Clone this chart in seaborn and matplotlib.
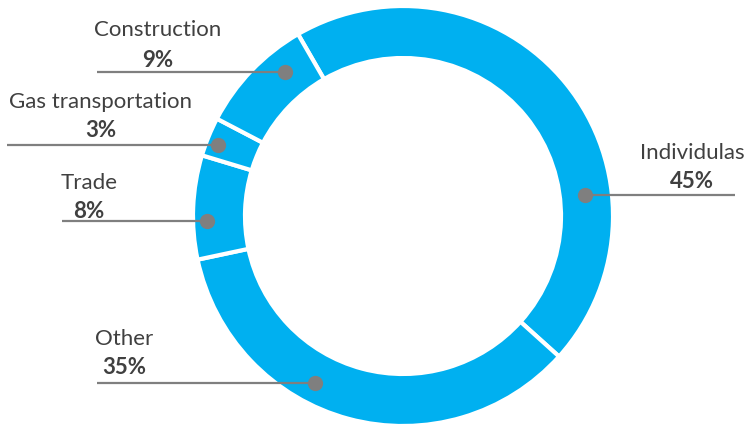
import numpy as np
import matplotlib
matplotlib.use("Agg")
import matplotlib.pyplot as plt
import seaborn as sns

# Loan portfolio structure by sector
categories = ["Individulas", "Other", "Trade", "Gas transportation", "Construction"]
shares = [45, 35, 8, 3, 9]
pct_labels = ["45%", "35%", "8%", "3%", "9%"]

# Leader layout (pixel space, y measured from the top of the figure)
dot_angle_deg = [83.4, 207.8, 268.5, 291.0, 320.7]   # clockwise from 12 o'clock
dot_radius = [183, 189, 196, 198, 186]
line_end_x = [735, 97, 62, 7, 97]
label_center_x = [692, 124, 89, 101, 158]
name_y = [153, 339, 183, 102, 30]
pct_y = [181, 368, 211, 130, 60]

sns.set_theme(style="white")
plt.rcParams["font.family"] = ["Lato", "DejaVu Sans"]

W, H = 748, 428
fig = plt.figure(figsize=(W / 100, H / 100), dpi=100)
ax = fig.add_axes([0, 0, 1, 1])
ax.set_xlim(0, W)
ax.set_ylim(0, H)
ax.set_aspect("equal")
ax.axis("off")

cx, cy = 403, H - 216
R, ring = 210, 52
blue = "#00B0F0"
grey = "#7F7F7F"
text_col = "#404040"

ax.pie(shares, colors=[blue] * len(shares), startangle=120, counterclock=False,
       radius=R, center=(cx, cy),
       wedgeprops=dict(width=ring, edgecolor="white", linewidth=3))
ax.set_xlim(0, W)
ax.set_ylim(0, H)

for i in range(len(categories)):
    a = np.deg2rad(dot_angle_deg[i])
    dx = cx + dot_radius[i] * np.sin(a)
    dy = cy + dot_radius[i] * np.cos(a)
    ax.plot([line_end_x[i], dx], [dy, dy], color=grey, lw=1.6,
            solid_capstyle="butt", zorder=3)
    ax.plot(dx, dy, "o", color=grey, ms=11, mec="none", zorder=4)
    ax.text(label_center_x[i], H - name_y[i], categories[i], ha="center",
            va="center", fontsize=16, color=text_col)
    ax.text(label_center_x[i], H - pct_y[i], pct_labels[i], ha="center",
            va="center", fontsize=16, fontweight="bold", color=text_col)

fig.savefig("out.png", dpi=100, facecolor="white")
